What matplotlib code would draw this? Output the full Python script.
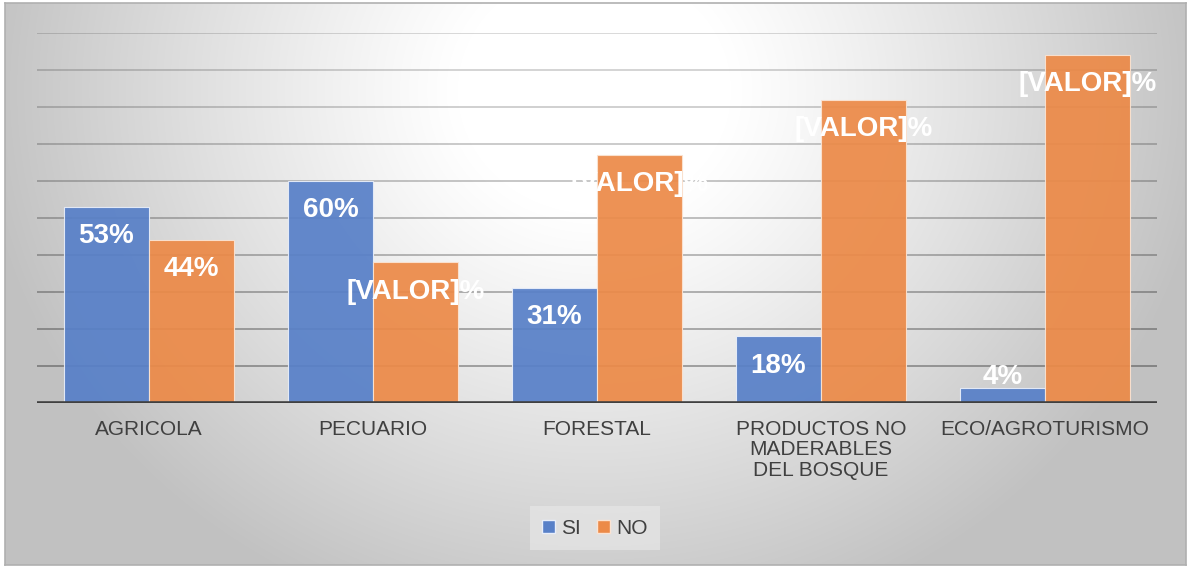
import numpy as np
import matplotlib
matplotlib.use("Agg")
from matplotlib import pyplot as plt
from matplotlib.patches import Patch

plt.rcParams['font.family'] = ['Liberation Sans', 'DejaVu Sans']

# data
categories = ["AGRICOLA", "PECUARIO", "FORESTAL",
              "PRODUCTOS NO\nMADERABLES\nDEL BOSQUE", "ECO/AGROTURISMO"]
si_values = [53, 60, 31, 18, 4]
no_values = [44, 38, 67, 82, 94]
si_labels = ["53%", "60%", "31%", "18%", "4%"]
no_labels = ["44%", "[VALOR]%", "[VALOR]%", "[VALOR]%", "[VALOR]%"]
series_names = ["SI", "NO"]

W, H = 1188, 567
blue = '#5880c8'
orange = '#ec8a48'

fig = plt.figure(figsize=(W / 100, H / 100), dpi=100)

# chart area with a radial grey gradient
x0, x1, y0, y1 = 5, 1186, 3, 565
bg = fig.add_axes([x0 / W, 1 - y1 / H, (x1 - x0) / W, (y1 - y0) / H], zorder=0)
xx, yy = np.meshgrid(np.arange(x0, x1), np.arange(y0, y1))
d = np.sqrt(((xx - 594) / 620.0) ** 2 + ((yy - 90) / 560.0) ** 2)
shade = 255 - 62 * np.clip((d - 0.22) / 0.78, 0, 1) ** 1.1
img = np.dstack([shade, shade, shade]) / 255.0
bg.imshow(img, aspect='auto', extent=(0, 1, 0, 1), interpolation='bilinear')
bg.set_xticks([])
bg.set_yticks([])
for s in bg.spines.values():
    s.set_color('#b0b0b0')
    s.set_linewidth(1.2)

# plot area
ax = fig.add_axes([37 / W, 1 - 403 / H, (1157 - 37) / W, (403 - 33) / H], zorder=1)
ax.set_facecolor('none')
x = np.arange(len(categories))
w = 0.38

ax.set_axisbelow(True)
ax.set_xlim(-0.5, len(categories) - 0.5)
ax.set_ylim(0, 100)
ax.set_yticks(np.arange(0, 101, 10))
ax.tick_params(axis='y', length=0, labelleft=False)
ax.yaxis.grid(True, color='black', linewidth=1.3)
glines = ax.get_ygridlines()
for i, gl in enumerate(glines):
    gl.set_alpha(0.36 - 0.2 * i / (len(glines) - 1))

bars_si = ax.bar(x - w / 2, si_values, w, color=blue, alpha=0.93,
                 edgecolor='#e8eefa', linewidth=0.8, zorder=2)
bars_no = ax.bar(x + w / 2, no_values, w, color=orange, alpha=0.93,
                 edgecolor='#fbe3d2', linewidth=0.8, zorder=2)

ax.axhline(0, color='#404040', linewidth=2.6, zorder=4)
for s in ax.spines.values():
    s.set_visible(False)

ax.set_xticks(x)
ax.set_xticklabels(categories, fontsize=15, color='#404040', linespacing=1.12)
ax.tick_params(axis='x', length=0, pad=12)

# data labels, inside end
for bars, labels in [(bars_si, si_labels), (bars_no, no_labels)]:
    for b, lab in zip(bars, labels):
        cx = b.get_x() + b.get_width() / 2
        top = b.get_height()
        if top < 10:
            ax.annotate(lab, (cx, top), xytext=(0, -1), textcoords='offset points',
                        ha='center', va='bottom', color='white', fontsize=20,
                        fontweight='bold', zorder=5)
        else:
            ax.annotate(lab, (cx, top), xytext=(0, -21), textcoords='offset points',
                        ha='center', va='center', color='white', fontsize=20,
                        fontweight='bold', zorder=5)

handles = [Patch(facecolor=blue, edgecolor='#e8eefa'),
           Patch(facecolor=orange, edgecolor='#fbe3d2')]
leg = fig.legend(handles, series_names, loc='center', bbox_to_anchor=(595 / W, 1 - 528 / H),
                 ncol=2, frameon=True, fontsize=15, handlelength=0.6, handleheight=0.6,
                 handletextpad=0.3, columnspacing=0.8, borderpad=0.6, fancybox=False)
leg.get_frame().set_facecolor('#e4e4e4')
leg.get_frame().set_edgecolor('none')
for t in leg.get_texts():
    t.set_color('#404040')

fig.savefig("out.png", dpi=100)
